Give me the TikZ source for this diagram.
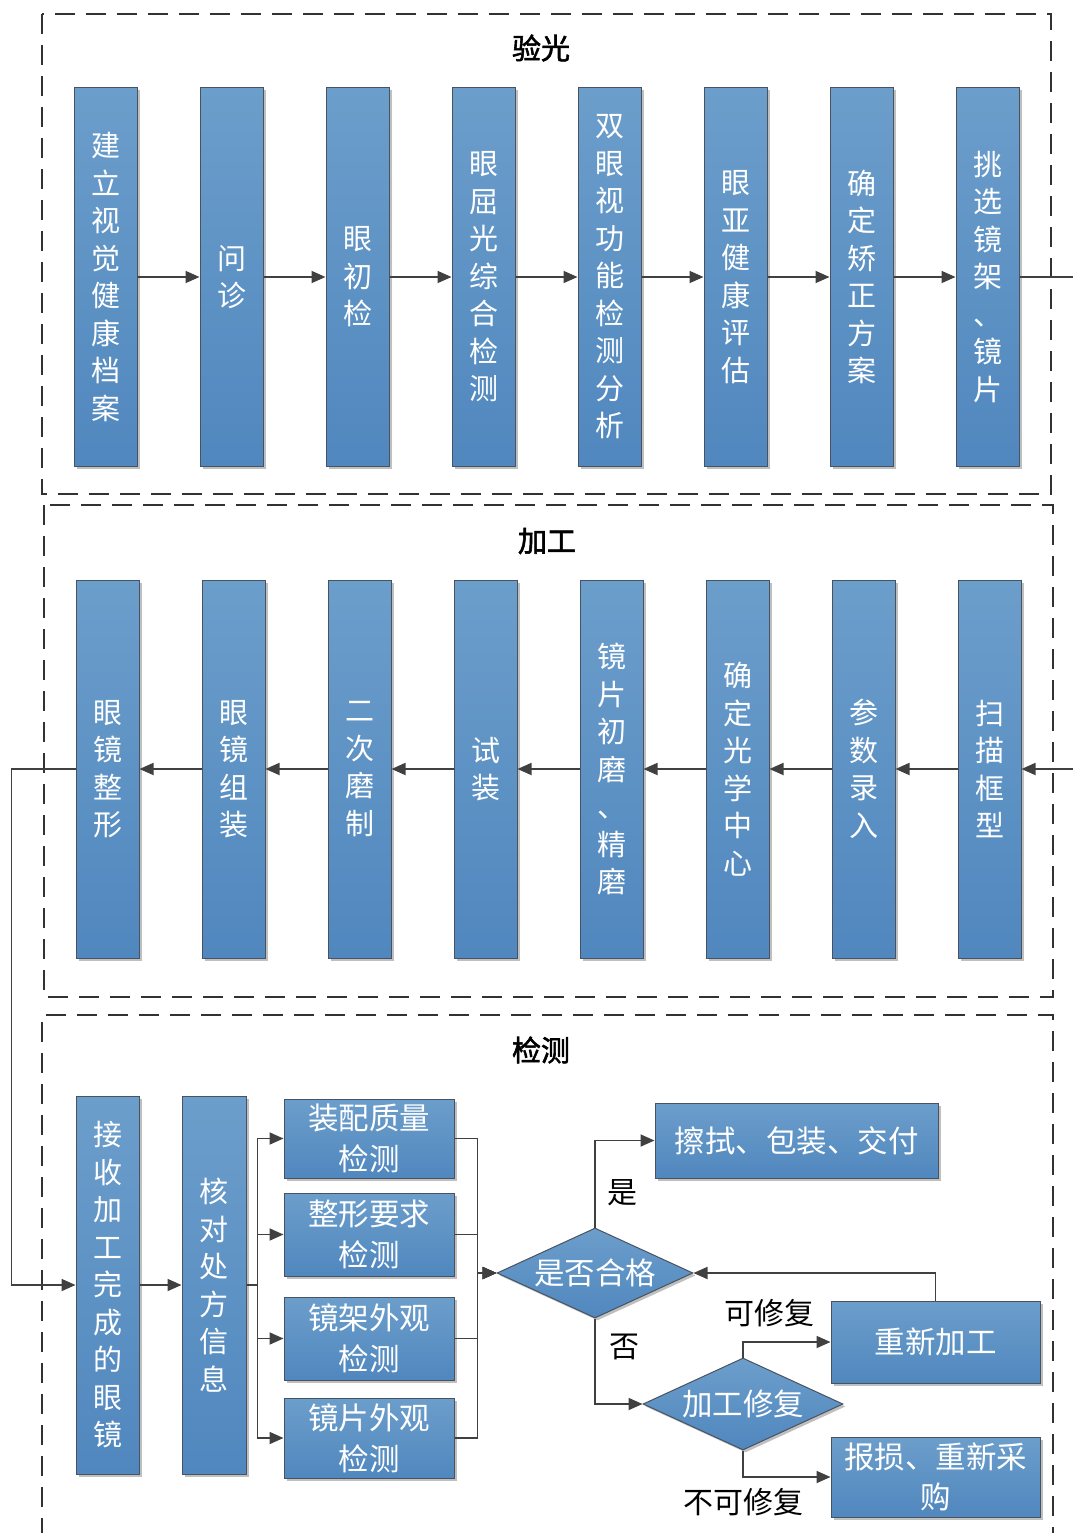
\documentclass[tikz,border=0pt]{standalone}
\usepackage{fontspec}
\newfontfamily\cjk{Noto Sans CJK SC}
\newfontfamily\cjkb{Noto Sans CJK SC}[FakeBold=2]
\usetikzlibrary{shapes.geometric,arrows.meta,shadows}
\definecolor{boxtop}{RGB}{108,158,203}
\definecolor{boxbot}{RGB}{80,135,190}
\definecolor{boxline}{RGB}{72,82,96}
\definecolor{linec}{RGB}{64,64,64}
\definecolor{framec}{RGB}{50,50,50}
\tikzset{
  box/.style={draw=boxline, line width=1pt, top color=boxtop, bottom color=boxbot,
    text=white, font=\cjk\fontsize{30.5}{40}\selectfont, align=center, inner sep=0pt,
    drop shadow={shadow xshift=2.5pt, shadow yshift=-2.5pt, opacity=0.25, fill=black}},
  vbox/.style={box, minimum width=63pt, minimum height=378pt, font=\cjk\fontsize{29}{37.5}\selectfont},
  cbox/.style={box, minimum width=170pt, font=\cjk\fontsize{30.5}{41}\selectfont},
  dia/.style={box, shape=diamond, aspect=2.2},
  arr/.style={draw=linec, line width=1.8pt, -{Triangle[length=14pt,width=12pt]}},
  plain/.style={draw=linec, line width=1.8pt},
  frame/.style={draw=framec, line width=1.5pt, dash pattern=on 20pt off 11pt},
  ttl/.style={font=\cjkb\fontsize{29}{32}\selectfont, text=black},
  lbl/.style={font=\cjk\fontsize{30}{32}\selectfont, text=black, inner sep=0pt},
}
\begin{document}
\begin{tikzpicture}[x=1pt,y=-1pt]
\useasboundingbox (0,0) rectangle (1072,1533);
% frames
\draw[frame] (42,14) rectangle (1051,494);
\draw[frame] (44,505) rectangle (1053,997);
\draw[frame] (42,1600) -- (42,1015) -- (1053,1015) -- (1053,1600);
\node[ttl] (t1) at (541,48) {验光};
\node[ttl] (t2) at (547,541) {加工};
\node[ttl] (t3) at (541,1050) {检测};
% top row
\node[vbox] (a1) at (105.5,277) {建\\立\\视\\觉\\健\\康\\档\\案};
\node[vbox] (a2) at (231.5,277) {问\\诊};
\node[vbox] (a3) at (357.5,277) {眼\\初\\检};
\node[vbox] (a4) at (483.5,277) {眼\\屈\\光\\综\\合\\检\\测};
\node[vbox] (a5) at (609.5,277) {双\\眼\\视\\功\\能\\检\\测\\分\\析};
\node[vbox] (a6) at (735.5,277) {眼\\亚\\健\\康\\评\\估};
\node[vbox] (a7) at (861.5,277) {确\\定\\矫\\正\\方\\案};
\node[vbox] (a8) at (987.5,277) {挑\\选\\镜\\架\\、\\镜\\片};
\foreach \i/\j in {a1/a2,a2/a3,a3/a4,a4/a5,a5/a6,a6/a7,a7/a8}
  \draw[arr] (\i.east) -- (\j.west);
\coordinate (e1) at (1074,277);
\draw[plain] (a8.east) -- (e1);
% middle row
\node[vbox] (b1) at (107.5,769) {眼\\镜\\整\\形};
\node[vbox] (b2) at (233.5,769) {眼\\镜\\组\\装};
\node[vbox] (b3) at (359.5,769) {二\\次\\磨\\制};
\node[vbox] (b4) at (485.5,769) {试\\装};
\node[vbox] (b5) at (611.5,769) {镜\\片\\初\\磨\\、\\精\\磨};
\node[vbox] (b6) at (737.5,769) {确\\定\\光\\学\\中\\心};
\node[vbox] (b7) at (863.5,769) {参\\数\\录\\入};
\node[vbox] (b8) at (989.5,769) {扫\\描\\框\\型};
\coordinate (e2) at (1074,769);
\draw[arr] (e2) -- (b8.east);
\foreach \i/\j in {b8/b7,b7/b6,b6/b5,b5/b4,b4/b3,b3/b2,b2/b1}
  \draw[arr] (\i.west) -- (\j.east);
% bottom
\node[vbox] (c1) at (107.5,1285) {接\\收\\加\\工\\完\\成\\的\\眼\\镜};
\node[vbox, minimum width=64pt] (c2) at (214,1285) {核\\对\\处\\方\\信\\息};
\draw[arr] (b1.west) -- ++(-64,0) |- (c1.west);
\draw[arr] (c1.east) -- (c2.west);
\node[cbox, minimum height=79pt] (d1) at (369,1138.5) {装配质量\\检测};
\node[cbox, minimum height=83pt] (d2) at (369,1234.5) {整形要求\\检测};
\node[cbox, minimum height=83pt] (d3) at (369,1338.5) {镜架外观\\检测};
\node[cbox, minimum height=80pt] (d4) at (369,1438) {镜片外观\\检测};
\foreach \d in {d1,d2,d3,d4}
  \draw[arr] (c2.east) -- ++(11,0) |- (\d.west);
\node[dia, minimum width=196pt, minimum height=90pt] (q1) at (595,1273) {是否合格};
\foreach \d in {d1,d2,d3,d4}
  \draw[arr] (\d.east) -- ++(23,0) |- (q1.west);
\node[box, minimum width=283pt, minimum height=75pt] (r1) at (796.5,1140.5) {擦拭、包装、交付};
\node[dia, minimum width=200pt, minimum height=92pt] (q2) at (743,1404) {加工修复};
\node[box, minimum width=209pt, minimum height=82pt] (r2) at (935.5,1342) {重新加工};
\node[box, minimum width=209pt, minimum height=80pt, font=\cjk\fontsize{30.5}{40}\selectfont] (r3) at (935.5,1477) {报损、重新采\\购};
\draw[arr] (q1.north) |- (r1.west);
\draw[arr] (q1.south) |- (q2.west);
\draw[arr] (q2.north) |- (r2.west);
\draw[arr] (r2.north) |- (q1.east);
\draw[arr] (q2.south) |- (r3.west);
\node[lbl] (l1) at (622,1193) {是};
\node[lbl] (l2) at (624,1347) {否};
\node[lbl] (l3) at (769,1313) {可修复};
\node[lbl] (l4) at (743,1502) {不可修复};
\end{tikzpicture}
\end{document}
